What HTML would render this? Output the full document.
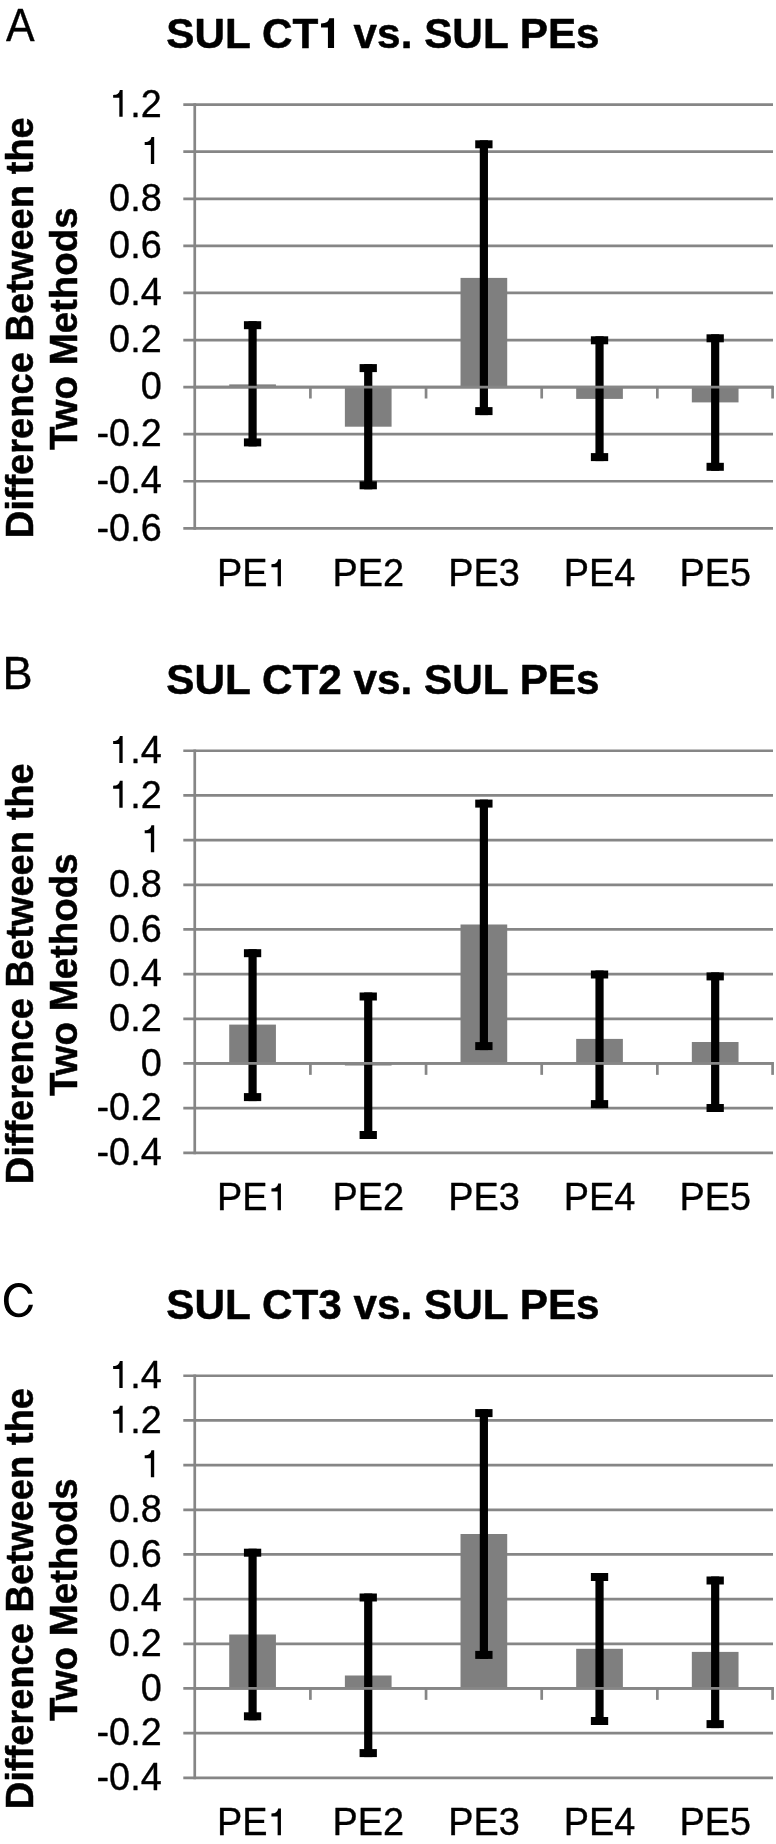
<!DOCTYPE html>
<html>
<head>
<meta charset="utf-8">
<title>SUL CT vs. SUL PEs</title>
<style>
html, body { margin: 0; padding: 0; background: #ffffff; }
body { width: 776px; height: 1844px; overflow: hidden; font-family: "Liberation Sans", sans-serif; }
svg { display: block; will-change: transform; }
svg text { font-family: "Liberation Sans", sans-serif; fill: #000000; stroke: #000000; stroke-linejoin: round; }
svg text.r { stroke-width: 0.35px; }
svg text.b { stroke-width: 0.5px; }
svg text tspan.h1 { visibility: hidden; }
</style>
</head>
<body>
<svg width="776" height="1844" viewBox="0 0 776 1844">
<rect x="0" y="0" width="776" height="1844" fill="#ffffff"/>
<g id="panelA">
<line x1="183.3" y1="104.63" x2="773.00" y2="104.63" stroke="#868686" stroke-width="2.7"/>
<line x1="183.3" y1="151.71" x2="773.00" y2="151.71" stroke="#868686" stroke-width="2.7"/>
<line x1="183.3" y1="198.79" x2="773.00" y2="198.79" stroke="#868686" stroke-width="2.7"/>
<line x1="183.3" y1="245.87" x2="773.00" y2="245.87" stroke="#868686" stroke-width="2.7"/>
<line x1="183.3" y1="292.95" x2="773.00" y2="292.95" stroke="#868686" stroke-width="2.7"/>
<line x1="183.3" y1="340.03" x2="773.00" y2="340.03" stroke="#868686" stroke-width="2.7"/>
<line x1="183.3" y1="387.11" x2="773.00" y2="387.11" stroke="#868686" stroke-width="2.7"/>
<line x1="183.3" y1="434.19" x2="773.00" y2="434.19" stroke="#868686" stroke-width="2.7"/>
<line x1="183.3" y1="481.27" x2="773.00" y2="481.27" stroke="#868686" stroke-width="2.7"/>
<line x1="183.3" y1="528.35" x2="773.00" y2="528.35" stroke="#868686" stroke-width="2.7"/>
<line x1="194.75" y1="103.28" x2="194.75" y2="529.70" stroke="#868686" stroke-width="2.7"/>
<rect x="229.22" y="384.40" width="46.70" height="2.71" fill="#7f7f7f"/>
<rect x="344.88" y="387.11" width="46.70" height="39.59" fill="#7f7f7f"/>
<rect x="460.52" y="277.90" width="46.70" height="109.21" fill="#7f7f7f"/>
<rect x="576.18" y="387.11" width="46.70" height="11.79" fill="#7f7f7f"/>
<rect x="691.83" y="387.11" width="46.70" height="15.29" fill="#7f7f7f"/>
<rect x="248.47" y="321.20" width="8.2" height="125.20" fill="#000"/>
<rect x="243.92" y="321.20" width="17.3" height="8" fill="#000"/>
<rect x="243.92" y="438.40" width="17.3" height="8" fill="#000"/>
<rect x="364.12" y="364.10" width="8.2" height="125.20" fill="#000"/>
<rect x="359.58" y="364.10" width="17.3" height="8" fill="#000"/>
<rect x="359.58" y="481.30" width="17.3" height="8" fill="#000"/>
<rect x="479.77" y="140.30" width="8.2" height="274.80" fill="#000"/>
<rect x="475.23" y="140.30" width="17.3" height="8" fill="#000"/>
<rect x="475.23" y="407.10" width="17.3" height="8" fill="#000"/>
<rect x="595.43" y="336.30" width="8.2" height="124.80" fill="#000"/>
<rect x="590.88" y="336.30" width="17.3" height="8" fill="#000"/>
<rect x="590.88" y="453.10" width="17.3" height="8" fill="#000"/>
<rect x="711.08" y="334.30" width="8.2" height="136.50" fill="#000"/>
<rect x="706.53" y="334.30" width="17.3" height="8" fill="#000"/>
<rect x="706.53" y="462.80" width="17.3" height="8" fill="#000"/>
<line x1="193.40" y1="387.11" x2="773.95" y2="387.11" stroke="#868686" stroke-width="2.7"/>
<line x1="310.40" y1="387.11" x2="310.40" y2="398.51" stroke="#868686" stroke-width="2.7"/>
<line x1="426.05" y1="387.11" x2="426.05" y2="398.51" stroke="#868686" stroke-width="2.7"/>
<line x1="541.70" y1="387.11" x2="541.70" y2="398.51" stroke="#868686" stroke-width="2.7"/>
<line x1="657.35" y1="387.11" x2="657.35" y2="398.51" stroke="#868686" stroke-width="2.7"/>
<line x1="772.60" y1="387.11" x2="772.60" y2="398.51" stroke="#868686" stroke-width="2.7"/>
<text transform="translate(161.7,116.83) scale(1,1.017)" font-size="37.85" text-anchor="end" class="r"><tspan class="h1">1</tspan>.2</text>
<path transform="translate(109.09,116.83) scale(37.85,-37.85)" d="M0.358 0V0.712H0.284C0.275 0.655 0.245 0.595 0.150 0.582L0.107 0.580V0.501H0.270V0Z" fill="#000"/>
<text transform="translate(161.7,163.91) scale(1,1.017)" font-size="37.85" text-anchor="end" class="r"><tspan class="h1">1</tspan></text>
<path transform="translate(140.65,163.91) scale(37.85,-37.85)" d="M0.358 0V0.712H0.284C0.275 0.655 0.245 0.595 0.150 0.582L0.107 0.580V0.501H0.270V0Z" fill="#000"/>
<text transform="translate(161.7,210.99) scale(1,1.017)" font-size="37.85" text-anchor="end" class="r">0.8</text>
<text transform="translate(161.7,258.07) scale(1,1.017)" font-size="37.85" text-anchor="end" class="r">0.6</text>
<text transform="translate(161.7,305.15) scale(1,1.017)" font-size="37.85" text-anchor="end" class="r">0.4</text>
<text transform="translate(161.7,352.23) scale(1,1.017)" font-size="37.85" text-anchor="end" class="r">0.2</text>
<text transform="translate(161.7,399.31) scale(1,1.017)" font-size="37.85" text-anchor="end" class="r">0</text>
<text transform="translate(161.7,446.39) scale(1,1.017)" font-size="37.85" text-anchor="end" class="r">-0.2</text>
<text transform="translate(161.7,493.47) scale(1,1.017)" font-size="37.85" text-anchor="end" class="r">-0.4</text>
<text transform="translate(161.7,540.55) scale(1,1.017)" font-size="37.85" text-anchor="end" class="r">-0.6</text>
<text transform="translate(252.67,586.15) scale(1,1.04)" font-size="37.85" text-anchor="middle" class="r">PE<tspan class="h1">1</tspan></text>
<path transform="translate(267.39,586.15) scale(37.85,-37.85)" d="M0.358 0V0.712H0.284C0.275 0.655 0.245 0.595 0.150 0.582L0.107 0.580V0.501H0.270V0Z" fill="#000"/>
<text transform="translate(368.33,586.15) scale(1,1.04)" font-size="37.85" text-anchor="middle" class="r">PE2</text>
<text transform="translate(483.98,586.15) scale(1,1.04)" font-size="37.85" text-anchor="middle" class="r">PE3</text>
<text transform="translate(599.63,586.15) scale(1,1.04)" font-size="37.85" text-anchor="middle" class="r">PE4</text>
<text transform="translate(715.28,586.15) scale(1,1.04)" font-size="37.85" text-anchor="middle" class="r">PE5</text>
<text transform="translate(383,47.80) scale(1,1.015)" font-size="42.3" font-weight="bold" text-anchor="middle" class="b">SUL CT<tspan class="h1">1</tspan> vs. SUL PEs</text>
<path transform="translate(318.32,47.80) scale(42.3,-42.3)" d="M0.372 -0.004V0.700H0.258C0.245 0.632 0.198 0.580 0.064 0.576V0.480H0.227V-0.004Z" fill="#000"/>
<text transform="translate(6.1,41.00) scale(0.95,1.035)" font-size="45.2" class="r">A</text>
<text transform="translate(33,327.80) rotate(-90)" font-size="38.1" font-weight="bold" text-anchor="middle" class="b">Difference Between the</text>
<text transform="translate(76.8,328.70) rotate(-90)" font-size="38.45" font-weight="bold" text-anchor="middle" class="b">Two Methods</text>
</g>
<g id="panelB">
<line x1="183.3" y1="750.77" x2="773.00" y2="750.77" stroke="#868686" stroke-width="2.7"/>
<line x1="183.3" y1="795.44" x2="773.00" y2="795.44" stroke="#868686" stroke-width="2.7"/>
<line x1="183.3" y1="840.11" x2="773.00" y2="840.11" stroke="#868686" stroke-width="2.7"/>
<line x1="183.3" y1="884.78" x2="773.00" y2="884.78" stroke="#868686" stroke-width="2.7"/>
<line x1="183.3" y1="929.45" x2="773.00" y2="929.45" stroke="#868686" stroke-width="2.7"/>
<line x1="183.3" y1="974.12" x2="773.00" y2="974.12" stroke="#868686" stroke-width="2.7"/>
<line x1="183.3" y1="1018.79" x2="773.00" y2="1018.79" stroke="#868686" stroke-width="2.7"/>
<line x1="183.3" y1="1063.46" x2="773.00" y2="1063.46" stroke="#868686" stroke-width="2.7"/>
<line x1="183.3" y1="1108.13" x2="773.00" y2="1108.13" stroke="#868686" stroke-width="2.7"/>
<line x1="183.3" y1="1152.80" x2="773.00" y2="1152.80" stroke="#868686" stroke-width="2.7"/>
<line x1="194.75" y1="749.42" x2="194.75" y2="1154.15" stroke="#868686" stroke-width="2.7"/>
<rect x="229.22" y="1024.60" width="46.70" height="38.86" fill="#7f7f7f"/>
<rect x="344.88" y="1063.46" width="46.70" height="2.04" fill="#7f7f7f"/>
<rect x="460.52" y="924.50" width="46.70" height="138.96" fill="#7f7f7f"/>
<rect x="576.18" y="1038.90" width="46.70" height="24.56" fill="#7f7f7f"/>
<rect x="691.83" y="1042.00" width="46.70" height="21.46" fill="#7f7f7f"/>
<rect x="248.47" y="949.20" width="8.2" height="151.90" fill="#000"/>
<rect x="243.92" y="949.20" width="17.3" height="8" fill="#000"/>
<rect x="243.92" y="1093.10" width="17.3" height="8" fill="#000"/>
<rect x="364.12" y="992.50" width="8.2" height="146.50" fill="#000"/>
<rect x="359.58" y="992.50" width="17.3" height="8" fill="#000"/>
<rect x="359.58" y="1131.00" width="17.3" height="8" fill="#000"/>
<rect x="479.77" y="799.60" width="8.2" height="250.50" fill="#000"/>
<rect x="475.23" y="799.60" width="17.3" height="8" fill="#000"/>
<rect x="475.23" y="1042.10" width="17.3" height="8" fill="#000"/>
<rect x="595.43" y="970.50" width="8.2" height="137.60" fill="#000"/>
<rect x="590.88" y="970.50" width="17.3" height="8" fill="#000"/>
<rect x="590.88" y="1100.10" width="17.3" height="8" fill="#000"/>
<rect x="711.08" y="972.40" width="8.2" height="139.60" fill="#000"/>
<rect x="706.53" y="972.40" width="17.3" height="8" fill="#000"/>
<rect x="706.53" y="1104.00" width="17.3" height="8" fill="#000"/>
<line x1="193.40" y1="1063.46" x2="773.95" y2="1063.46" stroke="#868686" stroke-width="2.7"/>
<line x1="310.40" y1="1063.46" x2="310.40" y2="1074.86" stroke="#868686" stroke-width="2.7"/>
<line x1="426.05" y1="1063.46" x2="426.05" y2="1074.86" stroke="#868686" stroke-width="2.7"/>
<line x1="541.70" y1="1063.46" x2="541.70" y2="1074.86" stroke="#868686" stroke-width="2.7"/>
<line x1="657.35" y1="1063.46" x2="657.35" y2="1074.86" stroke="#868686" stroke-width="2.7"/>
<line x1="772.60" y1="1063.46" x2="772.60" y2="1074.86" stroke="#868686" stroke-width="2.7"/>
<text transform="translate(161.7,762.97) scale(1,1.017)" font-size="37.85" text-anchor="end" class="r"><tspan class="h1">1</tspan>.4</text>
<path transform="translate(109.09,762.97) scale(37.85,-37.85)" d="M0.358 0V0.712H0.284C0.275 0.655 0.245 0.595 0.150 0.582L0.107 0.580V0.501H0.270V0Z" fill="#000"/>
<text transform="translate(161.7,807.64) scale(1,1.017)" font-size="37.85" text-anchor="end" class="r"><tspan class="h1">1</tspan>.2</text>
<path transform="translate(109.09,807.64) scale(37.85,-37.85)" d="M0.358 0V0.712H0.284C0.275 0.655 0.245 0.595 0.150 0.582L0.107 0.580V0.501H0.270V0Z" fill="#000"/>
<text transform="translate(161.7,852.31) scale(1,1.017)" font-size="37.85" text-anchor="end" class="r"><tspan class="h1">1</tspan></text>
<path transform="translate(140.65,852.31) scale(37.85,-37.85)" d="M0.358 0V0.712H0.284C0.275 0.655 0.245 0.595 0.150 0.582L0.107 0.580V0.501H0.270V0Z" fill="#000"/>
<text transform="translate(161.7,896.98) scale(1,1.017)" font-size="37.85" text-anchor="end" class="r">0.8</text>
<text transform="translate(161.7,941.65) scale(1,1.017)" font-size="37.85" text-anchor="end" class="r">0.6</text>
<text transform="translate(161.7,986.32) scale(1,1.017)" font-size="37.85" text-anchor="end" class="r">0.4</text>
<text transform="translate(161.7,1030.99) scale(1,1.017)" font-size="37.85" text-anchor="end" class="r">0.2</text>
<text transform="translate(161.7,1075.66) scale(1,1.017)" font-size="37.85" text-anchor="end" class="r">0</text>
<text transform="translate(161.7,1120.33) scale(1,1.017)" font-size="37.85" text-anchor="end" class="r">-0.2</text>
<text transform="translate(161.7,1165.00) scale(1,1.017)" font-size="37.85" text-anchor="end" class="r">-0.4</text>
<text transform="translate(252.67,1210.35) scale(1,1.04)" font-size="37.85" text-anchor="middle" class="r">PE<tspan class="h1">1</tspan></text>
<path transform="translate(267.39,1210.35) scale(37.85,-37.85)" d="M0.358 0V0.712H0.284C0.275 0.655 0.245 0.595 0.150 0.582L0.107 0.580V0.501H0.270V0Z" fill="#000"/>
<text transform="translate(368.33,1210.35) scale(1,1.04)" font-size="37.85" text-anchor="middle" class="r">PE2</text>
<text transform="translate(483.98,1210.35) scale(1,1.04)" font-size="37.85" text-anchor="middle" class="r">PE3</text>
<text transform="translate(599.63,1210.35) scale(1,1.04)" font-size="37.85" text-anchor="middle" class="r">PE4</text>
<text transform="translate(715.28,1210.35) scale(1,1.04)" font-size="37.85" text-anchor="middle" class="r">PE5</text>
<text transform="translate(383,694.10) scale(1,1.015)" font-size="42.3" font-weight="bold" text-anchor="middle" class="b">SUL CT2 vs. SUL PEs</text>
<text transform="translate(2.4,689.20) scale(1,1.035)" font-size="45.2" class="r">B</text>
<text transform="translate(33,973.80) rotate(-90)" font-size="38.1" font-weight="bold" text-anchor="middle" class="b">Difference Between the</text>
<text transform="translate(76.8,974.70) rotate(-90)" font-size="38.45" font-weight="bold" text-anchor="middle" class="b">Two Methods</text>
</g>
<g id="panelC">
<line x1="183.3" y1="1375.77" x2="773.00" y2="1375.77" stroke="#868686" stroke-width="2.7"/>
<line x1="183.3" y1="1420.44" x2="773.00" y2="1420.44" stroke="#868686" stroke-width="2.7"/>
<line x1="183.3" y1="1465.11" x2="773.00" y2="1465.11" stroke="#868686" stroke-width="2.7"/>
<line x1="183.3" y1="1509.78" x2="773.00" y2="1509.78" stroke="#868686" stroke-width="2.7"/>
<line x1="183.3" y1="1554.45" x2="773.00" y2="1554.45" stroke="#868686" stroke-width="2.7"/>
<line x1="183.3" y1="1599.12" x2="773.00" y2="1599.12" stroke="#868686" stroke-width="2.7"/>
<line x1="183.3" y1="1643.79" x2="773.00" y2="1643.79" stroke="#868686" stroke-width="2.7"/>
<line x1="183.3" y1="1688.46" x2="773.00" y2="1688.46" stroke="#868686" stroke-width="2.7"/>
<line x1="183.3" y1="1733.13" x2="773.00" y2="1733.13" stroke="#868686" stroke-width="2.7"/>
<line x1="183.3" y1="1777.80" x2="773.00" y2="1777.80" stroke="#868686" stroke-width="2.7"/>
<line x1="194.75" y1="1374.42" x2="194.75" y2="1779.15" stroke="#868686" stroke-width="2.7"/>
<rect x="229.22" y="1634.50" width="46.70" height="53.96" fill="#7f7f7f"/>
<rect x="344.88" y="1675.50" width="46.70" height="12.96" fill="#7f7f7f"/>
<rect x="460.52" y="1534.00" width="46.70" height="154.46" fill="#7f7f7f"/>
<rect x="576.18" y="1648.80" width="46.70" height="39.66" fill="#7f7f7f"/>
<rect x="691.83" y="1651.90" width="46.70" height="36.56" fill="#7f7f7f"/>
<rect x="248.47" y="1548.70" width="8.2" height="171.60" fill="#000"/>
<rect x="243.92" y="1548.70" width="17.3" height="8" fill="#000"/>
<rect x="243.92" y="1712.30" width="17.3" height="8" fill="#000"/>
<rect x="364.12" y="1593.50" width="8.2" height="163.60" fill="#000"/>
<rect x="359.58" y="1593.50" width="17.3" height="8" fill="#000"/>
<rect x="359.58" y="1749.10" width="17.3" height="8" fill="#000"/>
<rect x="479.77" y="1409.10" width="8.2" height="249.80" fill="#000"/>
<rect x="475.23" y="1409.10" width="17.3" height="8" fill="#000"/>
<rect x="475.23" y="1650.90" width="17.3" height="8" fill="#000"/>
<rect x="595.43" y="1573.00" width="8.2" height="152.00" fill="#000"/>
<rect x="590.88" y="1573.00" width="17.3" height="8" fill="#000"/>
<rect x="590.88" y="1717.00" width="17.3" height="8" fill="#000"/>
<rect x="711.08" y="1576.50" width="8.2" height="151.60" fill="#000"/>
<rect x="706.53" y="1576.50" width="17.3" height="8" fill="#000"/>
<rect x="706.53" y="1720.10" width="17.3" height="8" fill="#000"/>
<line x1="193.40" y1="1688.46" x2="773.95" y2="1688.46" stroke="#868686" stroke-width="2.7"/>
<line x1="310.40" y1="1688.46" x2="310.40" y2="1699.86" stroke="#868686" stroke-width="2.7"/>
<line x1="426.05" y1="1688.46" x2="426.05" y2="1699.86" stroke="#868686" stroke-width="2.7"/>
<line x1="541.70" y1="1688.46" x2="541.70" y2="1699.86" stroke="#868686" stroke-width="2.7"/>
<line x1="657.35" y1="1688.46" x2="657.35" y2="1699.86" stroke="#868686" stroke-width="2.7"/>
<line x1="772.60" y1="1688.46" x2="772.60" y2="1699.86" stroke="#868686" stroke-width="2.7"/>
<text transform="translate(161.7,1387.97) scale(1,1.017)" font-size="37.85" text-anchor="end" class="r"><tspan class="h1">1</tspan>.4</text>
<path transform="translate(109.09,1387.97) scale(37.85,-37.85)" d="M0.358 0V0.712H0.284C0.275 0.655 0.245 0.595 0.150 0.582L0.107 0.580V0.501H0.270V0Z" fill="#000"/>
<text transform="translate(161.7,1432.64) scale(1,1.017)" font-size="37.85" text-anchor="end" class="r"><tspan class="h1">1</tspan>.2</text>
<path transform="translate(109.09,1432.64) scale(37.85,-37.85)" d="M0.358 0V0.712H0.284C0.275 0.655 0.245 0.595 0.150 0.582L0.107 0.580V0.501H0.270V0Z" fill="#000"/>
<text transform="translate(161.7,1477.31) scale(1,1.017)" font-size="37.85" text-anchor="end" class="r"><tspan class="h1">1</tspan></text>
<path transform="translate(140.65,1477.31) scale(37.85,-37.85)" d="M0.358 0V0.712H0.284C0.275 0.655 0.245 0.595 0.150 0.582L0.107 0.580V0.501H0.270V0Z" fill="#000"/>
<text transform="translate(161.7,1521.98) scale(1,1.017)" font-size="37.85" text-anchor="end" class="r">0.8</text>
<text transform="translate(161.7,1566.65) scale(1,1.017)" font-size="37.85" text-anchor="end" class="r">0.6</text>
<text transform="translate(161.7,1611.32) scale(1,1.017)" font-size="37.85" text-anchor="end" class="r">0.4</text>
<text transform="translate(161.7,1655.99) scale(1,1.017)" font-size="37.85" text-anchor="end" class="r">0.2</text>
<text transform="translate(161.7,1700.66) scale(1,1.017)" font-size="37.85" text-anchor="end" class="r">0</text>
<text transform="translate(161.7,1745.33) scale(1,1.017)" font-size="37.85" text-anchor="end" class="r">-0.2</text>
<text transform="translate(161.7,1790.00) scale(1,1.017)" font-size="37.85" text-anchor="end" class="r">-0.4</text>
<text transform="translate(252.67,1835.35) scale(1,1.04)" font-size="37.85" text-anchor="middle" class="r">PE<tspan class="h1">1</tspan></text>
<path transform="translate(267.39,1835.35) scale(37.85,-37.85)" d="M0.358 0V0.712H0.284C0.275 0.655 0.245 0.595 0.150 0.582L0.107 0.580V0.501H0.270V0Z" fill="#000"/>
<text transform="translate(368.33,1835.35) scale(1,1.04)" font-size="37.85" text-anchor="middle" class="r">PE2</text>
<text transform="translate(483.98,1835.35) scale(1,1.04)" font-size="37.85" text-anchor="middle" class="r">PE3</text>
<text transform="translate(599.63,1835.35) scale(1,1.04)" font-size="37.85" text-anchor="middle" class="r">PE4</text>
<text transform="translate(715.28,1835.35) scale(1,1.04)" font-size="37.85" text-anchor="middle" class="r">PE5</text>
<text transform="translate(383,1319.00) scale(1,1.015)" font-size="42.3" font-weight="bold" text-anchor="middle" class="b">SUL CT3 vs. SUL PEs</text>
<clipPath id="cc"><path clip-rule="evenodd" d="M0 1270H50V1330H0ZM24 1293.85H50V1304.7H24Z"/></clipPath>
<path clip-path="url(#cc)" fill-rule="evenodd" fill="#000" d="M33.42 1300.15C33.42 1310.38 27.52 1317.20 18.68 1317.20C9.84 1317.20 3.94 1310.38 3.94 1300.15C3.94 1289.92 9.84 1283.10 18.68 1283.10C27.52 1283.10 33.42 1289.92 33.42 1300.15ZM29.30 1300.15C29.30 1307.90 25.00 1313.40 18.95 1313.40C12.90 1313.40 8.60 1307.90 8.60 1300.15C8.60 1292.40 12.90 1286.90 18.95 1286.90C25.00 1286.90 29.30 1292.40 29.30 1300.15Z"/>
<text transform="translate(33,1598.70) rotate(-90)" font-size="38.1" font-weight="bold" text-anchor="middle" class="b">Difference Between the</text>
<text transform="translate(76.8,1599.60) rotate(-90)" font-size="38.45" font-weight="bold" text-anchor="middle" class="b">Two Methods</text>
</g>
</svg>
</body>
</html>
